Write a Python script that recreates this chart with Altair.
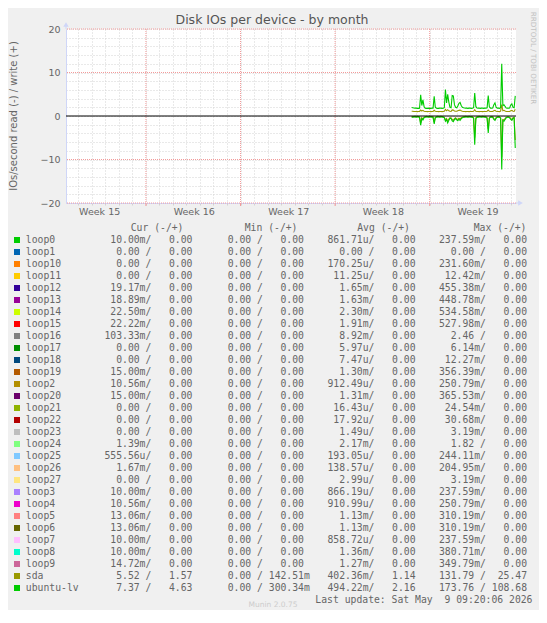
import altair as alt
import pandas as pd

NB = "\u00a0"
ZW = "\u200b"

# ---------------- data ----------------
title_text = "Disk IOs per device - by month"
y_title = "IOs/second read (-) / write (+)"
watermark = "RRDTOOL / TOBI OETIKER"
footer = "Munin 2.0.75"
last_update = "Last update: Sat May  9 09:20:06 2026"

x_start = alt.DateTime(year=2026, month=4, date=6, hours=2, utc=True)
x_end = alt.DateTime(year=2026, month=5, date=9, hours=9, minutes=20, utc=True)

week_starts = ["2026-04-12T00:00:00Z", "2026-04-19T00:00:00Z",
               "2026-04-26T00:00:00Z", "2026-05-03T00:00:00Z"]
week_mids = ["2026-04-08T12:00:00Z", "2026-04-15T12:00:00Z", "2026-04-22T12:00:00Z",
             "2026-04-29T12:00:00Z", "2026-05-06T12:00:00Z"]
week_labels = ["Week 15", "Week 16", "Week 17", "Week 18", "Week 19"]

y_ticks = [-20, -18, -16, -14, -12, -10, -8, -6, -4, -2, 0,
           2, 4, 6, 8, 10, 12, 14, 16, 18, 20]
y_major = [-20, -10, 10, 20]

series_start = "2026-05-01T16:00:00Z"  # 2-hour samples

ubuntu_write = [1.95, 1.9, 1.85, 1.8, 1.8, 1.75, 1.75, 1.8,
                4.9, 2.4, 3.7, 2.2,
                1.8, 1.75, 1.75, 1.8, 1.75, 1.75, 1.8, 1.8,
                4.5, 2.0,
                1.8, 1.75, 1.75, 1.8, 1.8, 1.75, 1.8, 1.9,
                6.1, 3.0, 5.0, 3.2, 2.0, 1.9, 4.7, 4.6, 2.6, 2.0, 1.9, 2.3, 2.9, 3.1, 2.4, 2.0,
                1.9, 1.85, 1.8, 1.8, 1.75, 1.8, 1.8, 1.75, 1.8, 1.9,
                5.3, 2.2,
                1.85, 1.8, 1.8, 1.75, 1.8, 1.8, 1.75, 1.8, 1.8, 1.9,
                4.7, 2.1,
                1.8, 1.8, 1.85,
                2.6, 3.0, 2.0,
                1.8, 1.8, 1.75, 1.9,
                12.0, 2.4, 2.6, 2.2,
                1.85, 1.8, 1.8, 1.85,
                2.5, 2.8, 2.0, 1.9, 4.63]
ubuntu_read = [0.3, 0.25, 0.2, 0.2, 0.25, 0.2, 0.2, 0.3,
               2.1, 0.6, 0.9, 0.4,
               0.25, 0.2, 0.2, 0.25, 0.2, 0.2, 0.25, 0.3,
               1.8, 0.4,
               0.25, 0.2, 0.2, 0.25, 0.2, 0.2, 0.3, 0.4,
               1.2, 0.8, 1.6, 1.0, 0.5, 0.6, 1.1, 1.3, 0.8, 0.6, 0.9, 1.1, 0.7, 1.0, 0.6, 0.4,
               0.3, 0.25, 0.2, 0.2, 0.25, 0.2, 0.2, 0.25, 0.3, 0.5,
               6.6, 0.6,
               0.3, 0.25, 0.2, 0.2, 0.25, 0.2, 0.2, 0.25, 0.3, 0.5,
               3.9, 0.5,
               0.3, 0.25, 0.3,
               0.8, 1.0, 0.5,
               0.3, 0.25, 0.3, 0.5,
               12.3, 1.0, 1.2, 0.8,
               0.4, 0.3, 0.3, 0.4,
               0.8, 1.0, 0.5, 0.4, 7.37]
sda_write = [1.1, 1.1, 1.05, 1.05, 1.05, 1.0, 1.05, 1.05,
             1.35, 1.15, 1.3, 1.1,
             1.05, 1.05, 1.0, 1.05, 1.05, 1.0, 1.05, 1.05,
             1.3, 1.1,
             1.05, 1.05, 1.0, 1.05, 1.05, 1.0, 1.05, 1.1,
             1.5, 1.2, 1.45, 1.2, 1.1, 1.05, 1.4, 1.35, 1.15, 1.1, 1.1, 1.2, 1.3, 1.35, 1.2, 1.1,
             1.05, 1.05, 1.0, 1.05, 1.05, 1.0, 1.05, 1.05, 1.05, 1.1,
             1.45, 1.1,
             1.05, 1.05, 1.0, 1.05, 1.05, 1.0, 1.05, 1.05, 1.05, 1.1,
             1.35, 1.1,
             1.05, 1.05, 1.05,
             1.2, 1.3, 1.1,
             1.05, 1.05, 1.0, 1.1,
             2.6, 1.2, 1.3, 1.15,
             1.05, 1.05, 1.05, 1.05,
             1.2, 1.3, 1.1, 1.05, 1.57]
sda_read = [0.2, 0.15, 0.15, 0.1, 0.15, 0.1, 0.15, 0.2,
            1.6, 0.4, 0.7, 0.3,
            0.15, 0.1, 0.15, 0.15, 0.1, 0.15, 0.15, 0.2,
            1.4, 0.3,
            0.15, 0.1, 0.15, 0.15, 0.1, 0.15, 0.2, 0.3,
            0.9, 0.6, 1.2, 0.7, 0.4, 0.4, 0.8, 1.0, 0.6, 0.4, 0.7, 0.8, 0.5, 0.7, 0.4, 0.3,
            0.2, 0.15, 0.1, 0.15, 0.15, 0.1, 0.15, 0.15, 0.2, 0.4,
            5.0, 0.4,
            0.2, 0.15, 0.1, 0.15, 0.15, 0.1, 0.15, 0.15, 0.2, 0.4,
            3.0, 0.4,
            0.2, 0.15, 0.2,
            0.6, 0.8, 0.4,
            0.2, 0.15, 0.2, 0.4,
            9.5, 0.8, 0.9, 0.6,
            0.3, 0.2, 0.2, 0.3,
            0.6, 0.8, 0.4, 0.3, 5.52]

names = ["loop0", "loop1", "loop10", "loop11", "loop12", "loop13", "loop14", "loop15",
         "loop16", "loop17", "loop18", "loop19", "loop2", "loop20", "loop21", "loop22",
         "loop23", "loop24", "loop25", "loop26", "loop27", "loop3", "loop4", "loop5",
         "loop6", "loop7", "loop8", "loop9", "sda", "ubuntu-lv"]
colors = ["#00CC00", "#0066B3", "#FF8000", "#FFCC00", "#330099", "#990099", "#CCFF00", "#FF0000",
          "#808080", "#008F00", "#00487D", "#B35A00", "#B38F00", "#6B006B", "#8FB300", "#B30000",
          "#BEBEBE", "#80FF80", "#80C9FF", "#FFC080", "#FFE680", "#AA80FF", "#EE00CC", "#FF8080",
          "#666600", "#FFBFFF", "#00FFCC", "#CC6699", "#999900", "#00CC00"]
cur_read = ["10.00m", "0.00", "0.00", "0.00", "19.17m", "18.89m", "22.50m", "22.22m",
            "103.33m", "0.00", "0.00", "15.00m", "10.56m", "15.00m", "0.00", "0.00",
            "0.00", "1.39m", "555.56u", "1.67m", "0.00", "10.00m", "10.56m", "13.06m",
            "13.06m", "10.00m", "10.00m", "14.72m", "5.52", "7.37"]
cur_write = ["0.00", "0.00", "0.00", "0.00", "0.00", "0.00", "0.00", "0.00",
             "0.00", "0.00", "0.00", "0.00", "0.00", "0.00", "0.00", "0.00",
             "0.00", "0.00", "0.00", "0.00", "0.00", "0.00", "0.00", "0.00",
             "0.00", "0.00", "0.00", "0.00", "1.57", "4.63"]
min_read = ["0.00", "0.00", "0.00", "0.00", "0.00", "0.00", "0.00", "0.00",
            "0.00", "0.00", "0.00", "0.00", "0.00", "0.00", "0.00", "0.00",
            "0.00", "0.00", "0.00", "0.00", "0.00", "0.00", "0.00", "0.00",
            "0.00", "0.00", "0.00", "0.00", "0.00", "0.00"]
min_write = ["0.00", "0.00", "0.00", "0.00", "0.00", "0.00", "0.00", "0.00",
             "0.00", "0.00", "0.00", "0.00", "0.00", "0.00", "0.00", "0.00",
             "0.00", "0.00", "0.00", "0.00", "0.00", "0.00", "0.00", "0.00",
             "0.00", "0.00", "0.00", "0.00", "142.51m", "300.34m"]
avg_read = ["861.71u", "0.00", "170.25u", "11.25u", "1.65m", "1.63m", "2.30m", "1.91m",
            "8.92m", "5.97u", "7.47u", "1.30m", "912.49u", "1.31m", "16.43u", "17.92u",
            "1.49u", "2.17m", "193.05u", "138.57u", "2.99u", "866.19u", "910.99u", "1.13m",
            "1.13m", "858.72u", "1.36m", "1.27m", "402.36m", "494.22m"]
avg_write = ["0.00", "0.00", "0.00", "0.00", "0.00", "0.00", "0.00", "0.00",
             "0.00", "0.00", "0.00", "0.00", "0.00", "0.00", "0.00", "0.00",
             "0.00", "0.00", "0.00", "0.00", "0.00", "0.00", "0.00", "0.00",
             "0.00", "0.00", "0.00", "0.00", "1.14", "2.16"]
max_read = ["237.59m", "0.00", "231.60m", "12.42m", "455.38m", "448.78m", "534.58m", "527.98m",
            "2.46", "6.14m", "12.27m", "356.39m", "250.79m", "365.53m", "24.54m", "30.68m",
            "3.19m", "1.82", "244.11m", "204.95m", "3.19m", "237.59m", "250.79m", "310.19m",
            "310.19m", "237.59m", "380.71m", "349.79m", "131.79", "173.76"]
max_write = ["0.00", "0.00", "0.00", "0.00", "0.00", "0.00", "0.00", "0.00",
             "0.00", "0.00", "0.00", "0.00", "0.00", "0.00", "0.00", "0.00",
             "0.00", "0.00", "0.00", "0.00", "0.00", "0.00", "0.00", "0.00",
             "0.00", "0.00", "0.00", "0.00", "25.47", "108.68"]

# ---------------- tables ----------------
times = pd.date_range(series_start, periods=len(ubuntu_write), freq="2h")
tstr = [t.strftime("%Y-%m-%dT%H:%M:%SZ") for t in times]


def series_df(write, read):
    return pd.DataFrame({
        "t": tstr + tstr,
        "v": list(write) + [-r for r in read],
        "dir": ["write"] * len(write) + ["read"] * len(read),
    })


df_sda = series_df(sda_write, sda_read)
df_ubu = series_df(ubuntu_write, ubuntu_read)


def fld(s, w):
    s = s if s[-1].isalpha() else s + " "
    return s.rjust(w).replace(" ", NB)


def row_text(i):
    parts = []
    for r, w in ((cur_read, cur_write), (min_read, min_write),
                 (avg_read, avg_write), (max_read, max_write)):
        parts.append(fld(r[i], 7) + "/" + fld(w[i], 8))
    # zero-width guards keep the fixed-width padding from being trimmed
    return ZW + (NB * 3).join(parts) + ZW


df_leg = pd.DataFrame({
    "row": list(range(len(names))),
    "name": names,
    "txt": [row_text(i) for i in range(len(names))],
})

# ---------------- styling ----------------
FONT = "DejaVu Sans"
MONO = "DejaVu Sans Mono"
TXT = "#666666"
AXIS_C = "#CFD6F8"
GRID_C = "#D2D2D2"
RED_C = "#F39A9A"

xscale = alt.Scale(type="utc", domain=[x_start, x_end])
yscale = alt.Scale(domain=[-20, 20], nice=False, zero=False)
legscale = alt.Scale(domain=[0, 29], range=[211, 559], nice=False, zero=False)

xaxis = alt.Axis(title=None, labels=False, tickCount={"interval": "day", "step": 1},
                 grid=True, gridColor=GRID_C, gridDash=[1, 2], gridWidth=1,
                 domainColor=AXIS_C, domainWidth=1, tickColor=GRID_C, tickSize=2)
yaxis = alt.Axis(title=None, values=y_ticks,
                 labelExpr="datum.value % 10 === 0 ? datum.label : ''",
                 labelOverlap=False, labelFlush=False,
                 grid=True, gridColor=GRID_C, gridDash=[1, 2], gridWidth=1,
                 ticks=False, domainColor=AXIS_C, domainWidth=1,
                 labelFont=FONT, labelFontSize=9.5, labelColor=TXT, labelPadding=6)

X = alt.X("t:T", scale=xscale, axis=xaxis)
Y = alt.Y("v:Q", scale=yscale, axis=yaxis)

one = pd.DataFrame({"s": [""]})


def label(text, x, y, **kw):
    return alt.Chart(pd.DataFrame({"s": [text]})).mark_text(**kw).encode(
        x=alt.value(x), y=alt.value(y), text="s:N")


# ---------------- main plot ----------------
red_x = alt.Chart(pd.DataFrame({"t": week_starts})).mark_rule(
    color=RED_C, strokeDash=[1, 1], strokeWidth=1).encode(x=X)
red_ticks = alt.Chart(pd.DataFrame({"t": week_starts})).mark_rule(
    color=RED_C, strokeWidth=1).encode(x=X, y=alt.value(174), y2=alt.value(177))
red_y = alt.Chart(pd.DataFrame({"v": y_major})).mark_rule(
    color=RED_C, strokeDash=[1, 1], strokeWidth=1).encode(y=Y)

sda_lines = alt.Chart(df_sda).mark_line(color="#999900", strokeWidth=1.1).encode(
    x=X, y=Y, detail="dir:N")
ubu_lines = alt.Chart(df_ubu).mark_line(color="#00CC00", strokeWidth=1.1).encode(
    x=X, y=Y, detail="dir:N")
zero = alt.Chart(pd.DataFrame({"v": [0]})).mark_rule(color="#000000", strokeWidth=1).encode(y=Y)

week_text = alt.Chart(pd.DataFrame({"t": week_mids, "label": week_labels})).mark_text(
    font=FONT, fontSize=9.5, color=TXT, baseline="middle", dx=1).encode(
    x=X, y=alt.value(183), text="label:N")

arrow_up = alt.Chart(one).mark_point(shape="triangle-up", filled=True, color=AXIS_C,
                                     size=30, opacity=1).encode(x=alt.value(0), y=alt.value(-4.5))
arrow_right = alt.Chart(one).mark_point(shape="triangle-right", filled=True, color=AXIS_C,
                                        size=30, opacity=1).encode(x=alt.value(454.5), y=alt.value(174))
axis_ext_v = alt.Chart(one).mark_rule(color=AXIS_C).encode(
    x=alt.value(0), y=alt.value(-3), y2=alt.value(0))
axis_ext_h = alt.Chart(one).mark_rule(color=AXIS_C).encode(
    x=alt.value(450), x2=alt.value(453), y=alt.value(174))

title = label(title_text, 206, -5, font=FONT, fontSize=12.5, color="#555555",
              align="center", baseline="alphabetic")
ytitle = label(y_title, -52.5, 87, font=FONT, fontSize=10, color=TXT,
               align="center", baseline="middle", angle=270)
wmark = label(watermark, 467, 29, font=FONT, fontSize=7.2, color="#C2C2C2",
              align="center", baseline="middle", angle=90)

main = alt.layer(red_x, red_y, red_ticks, sda_lines, ubu_lines, zero, week_text,
                 axis_ext_v, axis_ext_h, arrow_up, arrow_right, title, ytitle, wmark)

# ---------------- legend table ----------------
LY = alt.Y("row:Q", scale=legscale, axis=None)
swatches = alt.Chart(df_leg).mark_square(size=36, opacity=1, strokeWidth=0).encode(
    x=alt.value(-49), y=LY,
    color=alt.Color("name:N", scale=alt.Scale(domain=names, range=colors), legend=None))
leg_names = alt.Chart(df_leg).mark_text(align="left", baseline="middle", font=MONO,
                                        fontSize=9.75, color=TXT).encode(
    x=alt.value(-40.2), y=LY, text="name:N")
leg_vals = alt.Chart(df_leg).mark_text(align="left", baseline="middle", font=MONO,
                                       fontSize=9.75, color=TXT).encode(
    x=alt.value(38.4), y=LY, text="txt:N")

hdr_kw = dict(font=MONO, fontSize=9.75, color=TXT, align="right", baseline="middle")
h1 = label("Cur" + NB + "(-/+)", 117.5, 198.5, **hdr_kw)
h2 = label("Min" + NB + "(-/+)", 231.5, 198.5, **hdr_kw)
h3 = label("Avg" + NB + "(-/+)", 344, 198.5, **hdr_kw)
h4 = label("Max" + NB + "(-/+)", 460.5, 198.5, **hdr_kw)
upd = label(last_update.replace(" ", NB), 466.5, 570.5, **hdr_kw)
foot = label(footer, 207, 576, font=FONT, fontSize=7.5, color="#CCCCCC",
             align="center", baseline="middle")

legend = alt.layer(swatches, leg_names, leg_vals, h1, h2, h3, h4, upd, foot)

chart = alt.layer(main, legend).resolve_scale(y="independent").properties(
    width=450, height=174,
    autosize=alt.AutoSizeParams(type="none"),
    padding={"left": 58, "top": 21, "right": 23, "bottom": 407},
    background="#F0F0F0",
).configure_view(fill="#FFFFFF", stroke=None)

chart.save("out.html", embed_options={"renderer": "svg", "actions": False})
